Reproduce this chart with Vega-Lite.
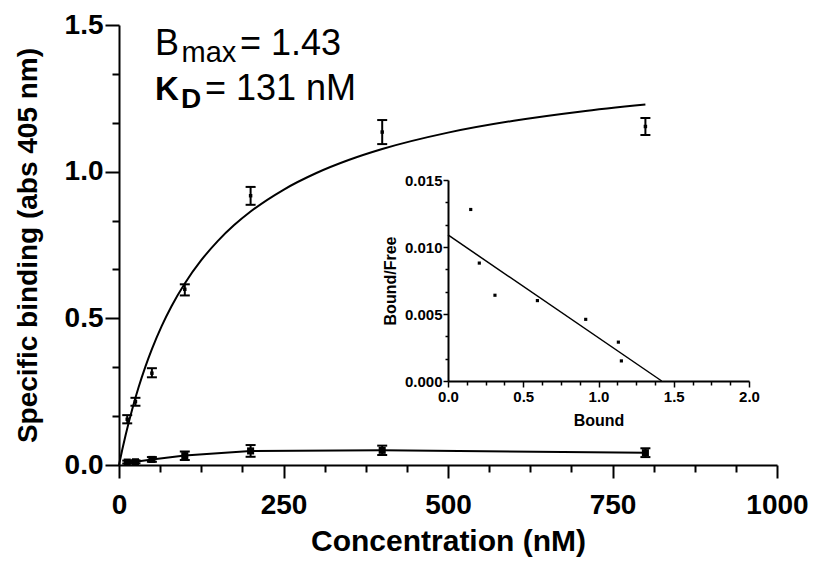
{
  "$schema": "https://vega.github.io/schema/vega-lite/v6.json",
  "width": 658,
  "height": 440,
  "autosize": {"type": "none"},
  "padding": {"left": 119, "top": 25, "right": 37, "bottom": 97},
  "background": "white",
  "config": {
    "view": {"stroke": null},
    "font": "Liberation Sans",
    "axis": {"grid": false, "domainColor": "black", "tickColor": "black", "labelColor": "black", "titleColor": "black", "labelFont": "Liberation Sans", "titleFont": "Liberation Sans", "labelOverlap": false, "labelFlush": false}
  },
  "datasets": {
    "binding": [
      {"series": "specific", "conc": 12.5, "mean": 0.156, "lo": 0.142, "hi": 0.170},
      {"series": "specific", "conc": 25, "mean": 0.216, "lo": 0.202, "hi": 0.229},
      {"series": "specific", "conc": 50, "mean": 0.313, "lo": 0.299, "hi": 0.330},
      {"series": "specific", "conc": 100, "mean": 0.599, "lo": 0.578, "hi": 0.616},
      {"series": "specific", "conc": 200, "mean": 0.918, "lo": 0.887, "hi": 0.948},
      {"series": "specific", "conc": 400, "mean": 1.135, "lo": 1.094, "hi": 1.176},
      {"series": "specific", "conc": 800, "mean": 1.154, "lo": 1.125, "hi": 1.183},
      {"series": "nonspecific", "conc": 12.5, "mean": 0.010, "lo": 0.005, "hi": 0.015},
      {"series": "nonspecific", "conc": 25, "mean": 0.011, "lo": 0.006, "hi": 0.016},
      {"series": "nonspecific", "conc": 50, "mean": 0.019, "lo": 0.011, "hi": 0.027},
      {"series": "nonspecific", "conc": 100, "mean": 0.032, "lo": 0.017, "hi": 0.046},
      {"series": "nonspecific", "conc": 200, "mean": 0.048, "lo": 0.028, "hi": 0.068},
      {"series": "nonspecific", "conc": 400, "mean": 0.050, "lo": 0.034, "hi": 0.066},
      {"series": "nonspecific", "conc": 800, "mean": 0.042, "lo": 0.027, "hi": 0.057}
    ],
    "fit": [
      {"conc": 0, "value": 0}, {"conc": 5, "value": 0.0526}, {"conc": 10, "value": 0.1014},
      {"conc": 20, "value": 0.1894}, {"conc": 30, "value": 0.2665}, {"conc": 40, "value": 0.3345},
      {"conc": 50, "value": 0.3950}, {"conc": 65, "value": 0.4742}, {"conc": 80, "value": 0.5422},
      {"conc": 100, "value": 0.6190}, {"conc": 125, "value": 0.6982}, {"conc": 150, "value": 0.7633},
      {"conc": 175, "value": 0.8178}, {"conc": 200, "value": 0.8640}, {"conc": 250, "value": 0.9383},
      {"conc": 300, "value": 0.9954}, {"conc": 350, "value": 1.0405}, {"conc": 400, "value": 1.0772},
      {"conc": 500, "value": 1.1331}, {"conc": 600, "value": 1.1737}, {"conc": 700, "value": 1.2046},
      {"conc": 800, "value": 1.2288}
    ],
    "scatchard": [
      {"bound": 0.151, "bf": 0.0128},
      {"bound": 0.208, "bf": 0.0088},
      {"bound": 0.312, "bf": 0.0064},
      {"bound": 0.594, "bf": 0.0060},
      {"bound": 0.915, "bf": 0.0046},
      {"bound": 1.132, "bf": 0.0029},
      {"bound": 1.152, "bf": 0.0015}
    ],
    "scatchardFit": [
      {"bound": 0, "bf": 0.0109},
      {"bound": 1.42, "bf": 0}
    ],
    "notes": [
      {"piece": "B", "text": "B", "x": 54.7, "y": 1.398},
      {"piece": "max", "text": "max", "x": 95, "y": 1.374},
      {"piece": "eqB", "text": "= 1.43", "x": 183.9, "y": 1.398},
      {"piece": "K", "text": "K", "x": 54.7, "y": 1.244},
      {"piece": "D", "text": "D", "x": 94.2, "y": 1.218},
      {"piece": "eqK", "text": "= 131 nM", "x": 130.7, "y": 1.244}
    ]
  },
  "layer": [
    {
      "layer": [
        {
          "data": {"name": "fit"},
          "mark": {"type": "line", "color": "black", "strokeWidth": 2, "interpolate": "monotone"},
          "encoding": {
            "x": {
              "field": "conc", "type": "quantitative",
              "scale": {"domain": [0, 1000], "nice": false, "zero": false},
              "axis": {
                "title": "Concentration (nM)",
                "values": [0, 62.5, 125, 187.5, 250, 312.5, 375, 437.5, 500, 562.5, 625, 687.5, 750, 812.5, 875, 937.5, 1000],
                "format": "d",
                "labelExpr": "datum.value % 250 === 0 ? format(datum.value, 'd') : ''",
                "tickSize": {"condition": {"test": "datum.value % 250 === 0", "value": 13}, "value": 7},
                "tickWidth": 2, "domainWidth": 2,
                "labelFontSize": 28, "labelFontWeight": "bold", "labelPadding": 13,
                "titleFontSize": 30, "titleFontWeight": "bold", "titlePadding": 7
              }
            },
            "y": {
              "field": "value", "type": "quantitative",
              "scale": {"domain": [0, 1.5], "nice": false, "zero": false},
              "axis": {
                "title": "Specific binding (abs 405 nm)",
                "values": [0, 0.16667, 0.33333, 0.5, 0.66667, 0.83333, 1, 1.16667, 1.33333, 1.5],
                "labelExpr": "abs(datum.value*2 - round(datum.value*2)) < 0.001 ? format(datum.value, '.1f') : ''",
                "tickSize": {"condition": {"test": "abs(datum.value*2 - round(datum.value*2)) < 0.001", "value": 14}, "value": 7},
                "tickWidth": 2, "domainWidth": 2,
                "labelFontSize": 28, "labelFontWeight": "bold", "labelPadding": 2,
                "titleFontSize": 28, "titleFontWeight": "bold", "titlePadding": 22
              }
            }
          }
        },
        {
          "data": {"name": "binding"},
          "transform": [{"filter": "datum.series === 'nonspecific'"}],
          "mark": {"type": "line", "color": "black", "strokeWidth": 2},
          "encoding": {
            "x": {"field": "conc", "type": "quantitative"},
            "y": {"field": "mean", "type": "quantitative"}
          }
        },
        {
          "data": {"name": "binding"},
          "mark": {"type": "rule", "color": "black", "strokeWidth": 2},
          "encoding": {
            "x": {"field": "conc", "type": "quantitative"},
            "y": {"field": "lo", "type": "quantitative"},
            "y2": {"field": "hi"}
          }
        },
        {
          "data": {"name": "binding"},
          "mark": {"type": "tick", "orient": "horizontal", "color": "black", "size": 10, "thickness": 2, "opacity": 1},
          "encoding": {
            "x": {"field": "conc", "type": "quantitative"},
            "y": {"field": "lo", "type": "quantitative"}
          }
        },
        {
          "data": {"name": "binding"},
          "mark": {"type": "tick", "orient": "horizontal", "color": "black", "size": 10, "thickness": 2, "opacity": 1},
          "encoding": {
            "x": {"field": "conc", "type": "quantitative"},
            "y": {"field": "hi", "type": "quantitative"}
          }
        },
        {
          "data": {"name": "binding"},
          "transform": [{"filter": "datum.series === 'specific'"}],
          "mark": {"type": "point", "shape": "square", "filled": true, "color": "black", "size": 12, "opacity": 1},
          "encoding": {
            "x": {"field": "conc", "type": "quantitative"},
            "y": {"field": "mean", "type": "quantitative"}
          }
        },
        {
          "data": {"name": "binding"},
          "transform": [{"filter": "datum.series === 'nonspecific'"}],
          "mark": {"type": "point", "shape": "square", "filled": true, "color": "black", "size": 50, "opacity": 1},
          "encoding": {
            "x": {"field": "conc", "type": "quantitative"},
            "y": {"field": "mean", "type": "quantitative"}
          }
        },
        {
          "data": {"name": "notes"},
          "transform": [{"filter": "datum.piece === 'B' || datum.piece === 'eqB' || datum.piece === 'eqK'"}],
          "mark": {"type": "text", "align": "left", "baseline": "alphabetic", "font": "Liberation Sans", "fontSize": 36, "color": "black"},
          "encoding": {
            "x": {"field": "x", "type": "quantitative"},
            "y": {"field": "y", "type": "quantitative"},
            "text": {"field": "text"}
          }
        },
        {
          "data": {"name": "notes"},
          "transform": [{"filter": "datum.piece === 'max'"}],
          "mark": {"type": "text", "align": "left", "baseline": "alphabetic", "font": "Liberation Sans", "fontSize": 29, "color": "black"},
          "encoding": {
            "x": {"field": "x", "type": "quantitative"},
            "y": {"field": "y", "type": "quantitative"},
            "text": {"field": "text"}
          }
        },
        {
          "data": {"name": "notes"},
          "transform": [{"filter": "datum.piece === 'K'"}],
          "mark": {"type": "text", "align": "left", "baseline": "alphabetic", "font": "Liberation Sans", "fontSize": 33, "fontWeight": "bold", "color": "black"},
          "encoding": {
            "x": {"field": "x", "type": "quantitative"},
            "y": {"field": "y", "type": "quantitative"},
            "text": {"field": "text"}
          }
        },
        {
          "data": {"name": "notes"},
          "transform": [{"filter": "datum.piece === 'D'"}],
          "mark": {"type": "text", "align": "left", "baseline": "alphabetic", "font": "Liberation Sans", "fontSize": 28, "fontWeight": "bold", "color": "black"},
          "encoding": {
            "x": {"field": "x", "type": "quantitative"},
            "y": {"field": "y", "type": "quantitative"},
            "text": {"field": "text"}
          }
        }
      ]
    },
    {
      "layer": [
        {
          "data": {"name": "scatchardFit"},
          "mark": {"type": "line", "color": "black", "strokeWidth": 1.5},
          "encoding": {
            "x": {
              "field": "bound", "type": "quantitative",
              "scale": {"domain": [0, 2], "range": [329, 630], "nice": false, "zero": false},
              "axis": {
                "orient": "bottom", "offset": -84, "title": "Bound",
                "values": [0, 0.125, 0.25, 0.375, 0.5, 0.625, 0.75, 0.875, 1, 1.125, 1.25, 1.375, 1.5, 1.625, 1.75, 1.875, 2],
                "labelExpr": "datum.value % 0.5 === 0 ? format(datum.value, '.1f') : ''",
                "tickSize": {"condition": {"test": "datum.value % 0.5 === 0", "value": 6}, "value": 4},
                "tickWidth": 1.5, "domainWidth": 2,
                "labelFontSize": 15, "labelFontWeight": "bold", "labelPadding": 2,
                "titleFontSize": 16, "titleFontWeight": "bold", "titlePadding": 8
              }
            },
            "y": {
              "field": "bf", "type": "quantitative",
              "scale": {"domain": [0, 0.015], "range": [356, 155], "nice": false, "zero": false},
              "axis": {
                "orient": "left", "offset": -329, "title": "Bound/Free",
                "values": [0, 0.0016667, 0.0033333, 0.005, 0.0066667, 0.0083333, 0.01, 0.0116667, 0.0133333, 0.015],
                "labelExpr": "abs(datum.value*200 - round(datum.value*200)) < 0.001 ? format(datum.value, '.3f') : ''",
                "tickSize": {"condition": {"test": "abs(datum.value*200 - round(datum.value*200)) < 0.001", "value": 5}, "value": 3},
                "tickWidth": 1.5, "domainWidth": 2,
                "labelFontSize": 15, "labelFontWeight": "bold", "labelPadding": 1,
                "titleFontSize": 16, "titleFontWeight": "bold", "titlePadding": 6
              }
            }
          }
        },
        {
          "data": {"name": "scatchard"},
          "mark": {"type": "point", "shape": "square", "filled": true, "color": "black", "size": 10, "opacity": 1},
          "encoding": {
            "x": {"field": "bound", "type": "quantitative"},
            "y": {"field": "bf", "type": "quantitative"}
          }
        }
      ]
    }
  ],
  "resolve": {"scale": {"x": "independent", "y": "independent"}, "axis": {"x": "independent", "y": "independent"}}
}
